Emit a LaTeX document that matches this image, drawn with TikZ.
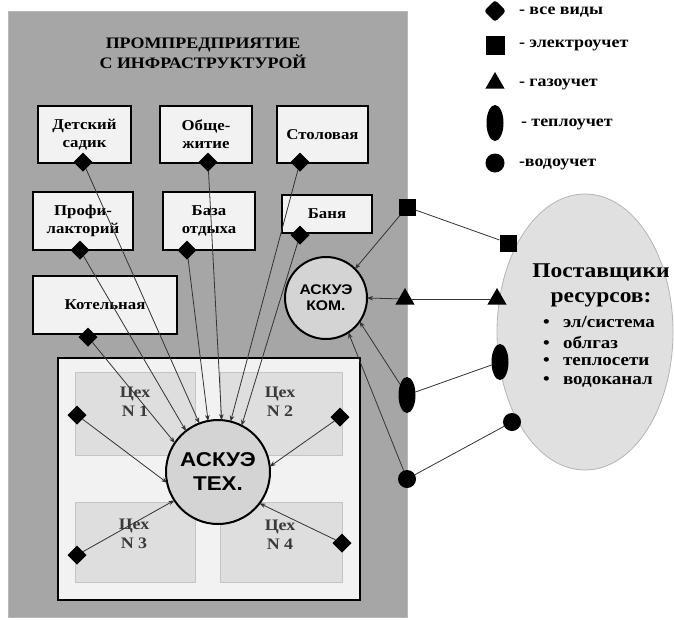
\documentclass[tikz,border=0pt]{standalone}
\usepackage{fontspec}
\setmainfont{Liberation Serif}[FakeStretch=1.12]
\newfontfamily\sansw{Liberation Sans}[FakeStretch=1.12]
\usetikzlibrary{shapes.geometric,arrows.meta}
\definecolor{panelgray}{HTML}{A6A6A6}
\definecolor{boxfill}{HTML}{F2F2F2}
\definecolor{cellfill}{HTML}{DEDEDE}
\definecolor{cellline}{HTML}{C4C4C4}
\definecolor{celltext}{HTML}{3A3A3A}
\definecolor{circfill}{HTML}{D4D4D4}
\definecolor{ellfill}{HTML}{E0E0E0}
\definecolor{ellline}{HTML}{B4B4B4}
\definecolor{linecol}{HTML}{333333}
\begin{document}
\begin{tikzpicture}[x=1pt,y=-1pt,
  every node/.style={inner sep=0pt,outer sep=0pt},
  bld/.style={draw=black,line width=2pt,fill=boxfill,font=\bfseries\fontsize{15}{18}\selectfont,align=center},
  cell/.style={draw=cellline,line width=1pt,fill=cellfill},
  celltxt/.style={font=\bfseries\fontsize{16}{19}\selectfont,text=celltext,align=center},
  dmark/.style={diamond,fill=black,minimum size=19pt},
  smark/.style={rectangle,fill=black,minimum size=17pt},
  tmark/.style={regular polygon,regular polygon sides=3,fill=black,minimum size=22pt},
  emark/.style={ellipse,fill=black,minimum width=17pt,minimum height=36pt},
  cmark/.style={circle,fill=black,minimum size=18pt},
  conn/.style={draw=linecol,line width=0.8pt},
  arr/.style={conn,-{Stealth[length=6pt,width=4.5pt]}},
  legtxt/.style={anchor=west,font=\bfseries\fontsize{16}{18}\selectfont},
  listtxt/.style={anchor=west,font=\bfseries\fontsize{17}{20}\selectfont}
]
\useasboundingbox (0,0) rectangle (674,619);
% panel
\node[fill=panelgray,draw=panelgray!80!white,line width=0.8pt,minimum width=399pt,minimum height=606pt] (panel) at (207.5,314) {};
\node[font=\bfseries\fontsize{16}{20}\selectfont,align=center] (title) at (203,53) {ПРОМПРЕДПРИЯТИЕ\\С ИНФРАСТРУКТУРОЙ};
% buildings
\node[bld,minimum width=93pt,minimum height=57pt] (sad) at (84.5,134.5) {Детский\\садик};
\node[bld,minimum width=92pt,minimum height=57pt] (obsh) at (206,134.5) {Обще-\\житие};
\node[bld,minimum width=91pt,minimum height=57pt] (stol) at (322.5,134.5) {Столовая};
\node[bld,minimum width=100pt,minimum height=58pt] (prof) at (83,221) {Профи-\\лакторий};
\node[bld,minimum width=92pt,minimum height=58pt] (baza) at (209,221) {База\\отдыха};
\node[bld,minimum width=90pt,minimum height=38pt] (banya) at (327,214) {Баня};
\node[bld,minimum width=144pt,minimum height=58pt] (kotel) at (105,305) {Котельная};
% workshop block
\node[draw=black,line width=2.5pt,fill=boxfill,minimum width=302pt,minimum height=242pt] (plant) at (209,479) {};
\node[cell,minimum width=120pt,minimum height=83pt] (c1) at (135,413.5) {};
\node[cell,minimum width=122pt,minimum height=83pt] (c2) at (281,413.5) {};
\node[cell,minimum width=120pt,minimum height=80pt] (c3) at (135,542) {};
\node[cell,minimum width=122pt,minimum height=80pt] (c4) at (281,542) {};
\node[celltxt] (t1) at (135,402) {Цех\\N 1};
\node[celltxt] (t2) at (280,402) {Цех\\N 2};
\node[celltxt] (t3) at (134,534) {Цех\\N 3};
\node[celltxt] (t4) at (280,535) {Цех\\N 4};
% ASKUE circles
\node[circle,draw=black,line width=2pt,fill=circfill,minimum size=104pt,align=center,font=\sansw\bfseries\fontsize{20}{24}\selectfont] (tex) at (218,472) {АСКУЭ\\ТЕХ.};
\node[circle,draw=black,line width=2pt,fill=circfill,minimum size=82pt,align=center,font=\sansw\bfseries\fontsize{14}{16}\selectfont] (kom) at (326,298) {АСКУЭ\\КОМ.};
% suppliers ellipse
\node[ellipse,draw=ellline,line width=0.8pt,fill=ellfill,minimum width=176pt,minimum height=276pt] (sup) at (585,332) {};
\node[font=\bfseries\fontsize{21}{25}\selectfont,align=center] (supt) at (601,285) {Поставщики\\ресурсов:};
\node[listtxt] (l1) at (543,322) {\makebox[20pt][l]{•}эл/система};
\node[listtxt] (l2) at (543,342) {\makebox[20pt][l]{•}облгаз};
\node[listtxt] (l3) at (543,362) {\makebox[20pt][l]{•}теплосети};
\node[listtxt] (l4) at (543,382) {\makebox[20pt][l]{•}водоканал};
% markers on buildings
\node[dmark] (sadD) at (83,162) {};
\node[dmark] (obshD) at (208,162) {};
\node[dmark] (stolD) at (300,162) {};
\node[dmark] (profD) at (80,250) {};
\node[dmark] (bazaD) at (187,250) {};
\node[dmark] (banyaD) at (300,235) {};
\node[dmark] (kotelD) at (88,337) {};
\node[dmark] (d1) at (77,415) {};
\node[dmark] (d2) at (340,417) {};
\node[dmark] (d3) at (77,555) {};
\node[dmark] (d4) at (342,543) {};
% commercial markers
\node[smark] (sq1) at (407,207) {};
\node[smark] (sq2) at (508,243) {};
\node[tmark] (tr1) at (405,299) {};
\node[tmark] (tr2) at (497,299) {};
\node[emark] (el1) at (407,395) {};
\node[emark] (el2) at (500,362) {};
\node[cmark] (wa1) at (407,479) {};
\node[cmark] (wa2) at (512,422) {};
% legend
\node[dmark,rounded corners=3pt,minimum size=22pt] (lg1) at (495,11) {};
\node[smark,minimum size=19pt] (lg2) at (495,45) {};
\node[tmark] (lg3) at (495,83) {};
\node[emark] (lg4) at (495,123) {};
\node[cmark,minimum size=19pt] (lg5) at (495,163) {};
\node[legtxt] (lt1) at (519,12) {- все виды};
\node[legtxt] (lt2) at (519,45) {- электроучет};
\node[legtxt] (lt3) at (519,84) {- газоучет};
\node[legtxt] (lt4) at (521,124) {- теплоучет};
\node[legtxt] (lt5) at (519,164) {-водоучет};
% connectors to ASKUE TEX
\draw[arr] (kotelD) -- (tex.146);
\draw[arr] (profD) -- (tex.128);
\draw[arr] (sadD) -- (tex.111);
\draw[arr] (bazaD) -- (tex.101);
\draw[arr] (obshD) -- (tex.86);
\draw[arr] (stolD) -- (tex.76);
\draw[arr] (banyaD) -- (tex.63);
\draw[arr] (d1) -- (tex.192);
\draw[arr] (d2) -- (tex.6);
\draw[arr] (d3) -- (tex.213);
\draw[arr] (d4) -- (tex.323);
% connectors to ASKUE KOM
\draw[arr] (sq1) -- (kom.45);
\draw[arr] (tr1) -- (kom.0);
\draw[arr] (el1) -- (kom.-35);
\draw[arr] (wa1) -- (kom.-57);
\draw[conn] (sq1) -- (sq2);
\draw[conn] (tr1) -- (tr2);
\draw[conn] (el1) -- (el2);
\draw[conn] (wa1) -- (wa2);
\end{tikzpicture}
\end{document}
